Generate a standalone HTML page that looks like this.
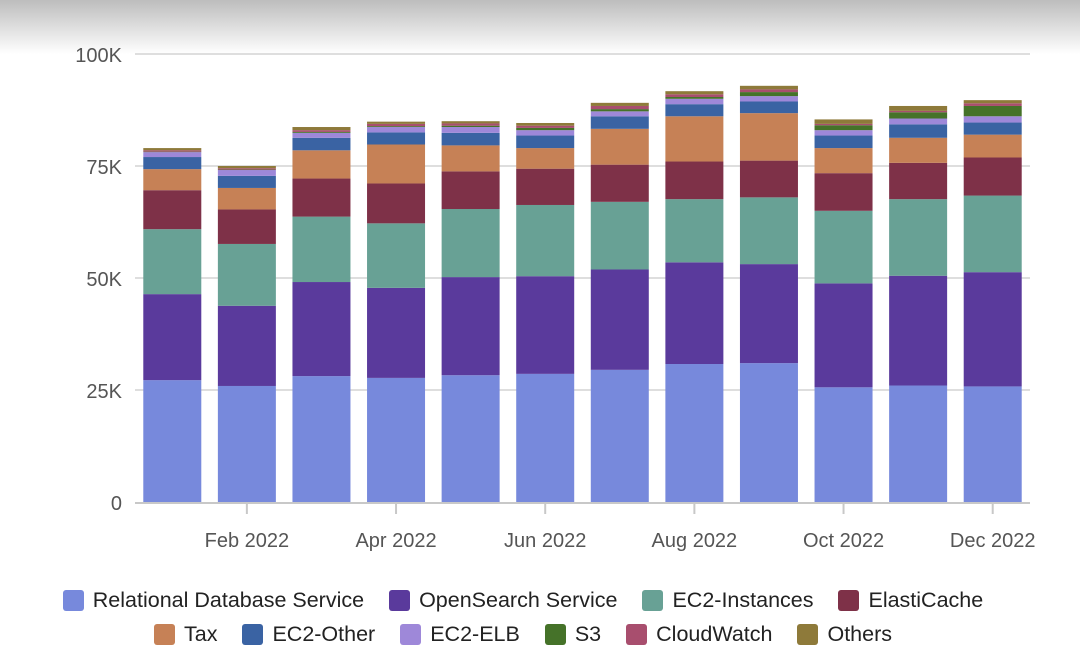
<!DOCTYPE html>
<html><head><meta charset="utf-8"><style>
body{margin:0;width:1080px;height:666px;overflow:hidden;background:#fff;font-family:"Liberation Sans",sans-serif;position:relative}
#shade{position:absolute;left:0;top:0;width:1080px;height:54px;background:linear-gradient(#bdbdbd,#fff)}
svg{position:absolute;left:0;top:0}
.legend{position:absolute;left:-17px;width:1080px;display:flex;justify-content:center;gap:25px;font-size:21.5px;color:#222}
.li{display:flex;align-items:center}
.sw{width:21px;height:21px;border-radius:3px;margin-right:9px}
</style></head><body>
<div id="shade"></div>
<svg id="chart" width="1080" height="666"></svg>
<div class="legend" style="top:588px" id="leg1"></div>
<div class="legend" style="top:622px" id="leg2"></div>
<script>
const months=["Jan 2022","Feb 2022","Mar 2022","Apr 2022","May 2022","Jun 2022","Jul 2022","Aug 2022","Sep 2022","Oct 2022","Nov 2022","Dec 2022"];
const seriesNames=["Relational Database Service","OpenSearch Service","EC2-Instances","ElastiCache","Tax","EC2-Other","EC2-ELB","S3","CloudWatch","Others"];
const colors=["#7789dc","#5a3a9c","#68a195","#7e3148","#c68156","#3a63a3","#9e88d9","#457229","#a84e6e","#8e7a3a"];
const rds=[27.2,25.9,28.1,27.7,28.3,28.6,29.5,30.8,31.0,25.6,26.0,25.8];
const opensearch=[19.2,17.9,21.0,20.1,21.9,21.8,22.4,22.7,22.1,23.2,24.5,25.5];
const ec2inst=[14.5,13.8,14.6,14.4,15.2,15.9,15.1,14.1,14.9,16.2,17.1,17.1];
const elasticache=[8.7,7.7,8.5,8.9,8.4,8.1,8.3,8.4,8.2,8.4,8.1,8.5];
const tax=[4.7,4.8,6.3,8.7,5.8,4.6,8.0,10.1,10.6,5.6,5.6,5.1];
const ec2other=[2.7,2.7,2.8,2.7,2.8,2.8,2.8,2.7,2.6,2.8,3.0,2.7];
const elb=[1.1,1.3,1.1,1.2,1.3,1.2,1.1,1.2,1.2,1.2,1.3,1.4];
const s3=[0.1,0.1,0.2,0.2,0.3,0.5,0.5,0.4,0.9,1.1,1.4,2.3];
const cloudwatch=[0.3,0.3,0.4,0.5,0.5,0.5,0.7,0.6,0.6,0.3,0.3,0.6];
const others=[0.5,0.5,0.7,0.5,0.5,0.6,0.7,0.7,0.8,1.0,1.1,0.7];
const yTicks=[0,25,50,75,100];
const yTickLabels=["0","25K","50K","75K","100K"];
const xLabelIdx=[1,3,5,7,9,11];
const series=[rds,opensearch,ec2inst,elasticache,tax,ec2other,elb,s3,cloudwatch,others];

const NS="http://www.w3.org/2000/svg";
const svg=document.getElementById('chart');
const y0=502,y1=54,ymax=100,left=135,right=1030;
const y=v=>y0-(v/ymax)*(y0-y1);
const pitch=(right-left)/months.length;
const x=i=>left+pitch*(i+0.5);
const bw=58;
function mk(t,a){const e=document.createElementNS(NS,t);for(const k in a)e.setAttribute(k,a[k]);svg.appendChild(e);return e;}
yTicks.forEach((t,i)=>{
  if(t>0){const g=mk('line',{x1:left,x2:right,y1:y(t),y2:y(t),stroke:'#dedede','stroke-width':2});
  
  }
  const tx=mk('text',{x:122,y:y(t)+8,'text-anchor':'end','font-size':20,fill:'#555'});
  tx.textContent=yTickLabels[i];
  
  
});
months.forEach((m,i)=>{
  let acc=0;
  series.forEach((s,k)=>{
    const v=s[i];
    const r=mk('rect',{x:x(i)-bw/2,y:y(acc+v),width:bw,height:y(acc)-y(acc+v),fill:colors[k]});
    
    
    acc+=v;
  });
});
const ax=mk('line',{x1:left,x2:right,y1:y0+1,y2:y0+1,stroke:'#c8c8c8','stroke-width':2});


xLabelIdx.forEach(i=>{
  const tk=mk('line',{x1:x(i),x2:x(i),y1:y0+2,y2:y0+12,stroke:'#c8c8c8','stroke-width':2});
  
  
  const t=mk('text',{x:x(i),y:547,'text-anchor':'middle','font-size':20,fill:'#555'});
  t.textContent=months[i];
  
  
});
seriesNames.forEach((n,k)=>{
  const d=document.createElement('div');d.className='li';
  
  
  d.innerHTML='<span class="sw" style="background:'+colors[k]+'"></span>'+n;
  document.getElementById(k<4?'leg1':'leg2').appendChild(d);
});
</script>
</body></html>
